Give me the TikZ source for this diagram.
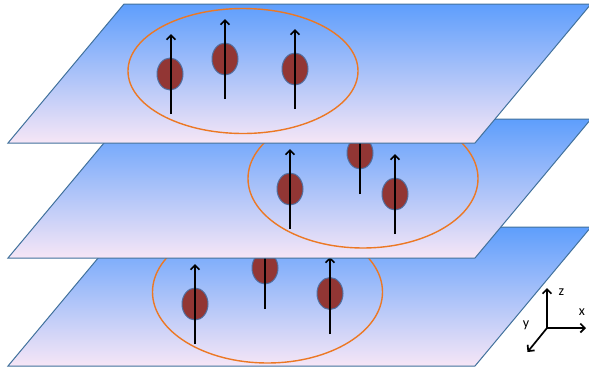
\documentclass[tikz,border=0pt]{standalone}
\usepackage{fontspec}
\setmainfont{Carlito}
\usetikzlibrary{shapes.geometric,arrows.meta}
\definecolor{planetop}{RGB}{94,158,252}
\definecolor{planemid}{RGB}{140,196,252}
\definecolor{planebot}{RGB}{246,230,246}
\definecolor{planeedge}{RGB}{65,113,156}
\definecolor{orbitcol}{RGB}{236,120,36}
\definecolor{spinred}{RGB}{146,54,52}
\definecolor{spinedge}{RGB}{80,110,160}
\begin{document}
\begin{tikzpicture}[x=1pt,y=-1pt,
  plane/.style={draw=planeedge,line width=1pt,top color=planetop,middle color=planemid,bottom color=planebot},
  orbit/.style={ellipse,draw=orbitcol,line width=1.4pt,inner sep=0pt},
  spin/.style={ellipse,fill=spinred,draw=spinedge,line width=1pt,minimum width=26pt,minimum height=32pt,inner sep=0pt},
  spinarrow/.style={line width=1.7pt,-{Straight Barb[length=4.5pt,width=9pt]}},
  axarrow/.style={line width=1.7pt,-{Straight Barb[length=4.5pt,width=9pt]}},
  axlabel/.style={font=\fontsize{14}{15}\selectfont,inner sep=0pt}]
\useasboundingbox (0,0) rectangle (589,373);
% ---------- bottom plane ----------
\path[plane] (8,366) -- (124,227) -- (591,227) -- (475,366) -- cycle;
\node[orbit,minimum width=230pt,minimum height=142pt] (orb3) at (267.5,292) {};
\node[spin] (s31) at (195,304) {};
\node[spin] (s32) at (265,268) {};
\node[spin] (s33) at (330,293.5) {};
\coordinate (a31s) at (195,344); \coordinate (a31e) at (195,264);
\coordinate (a32s) at (265,309); \coordinate (a32e) at (265,229);
\coordinate (a33s) at (330,334); \coordinate (a33e) at (330,257);
\draw[spinarrow] (a31s) -- (a31e);
\draw[spinarrow] (a32s) -- (a32e);
\draw[spinarrow] (a33s) -- (a33e);
% ---------- middle plane ----------
\path[plane] (8,258) -- (124,119) -- (591,119) -- (475,258) -- cycle;
\node[orbit,minimum width=230pt,minimum height=139pt] (orb2) at (363,178.5) {};
\node[spin] (s21) at (290,189) {};
\node[spin] (s22) at (360,153) {};
\node[spin] (s23) at (395,194) {};
\coordinate (a21s) at (290,228.5); \coordinate (a21e) at (290,149);
\coordinate (a22s) at (360,194); \coordinate (a22e) at (360,114);
\coordinate (a23s) at (395,234); \coordinate (a23e) at (395,154);
\draw[spinarrow] (a21s) -- (a21e);
\draw[spinarrow] (a22s) -- (a22e);
\draw[spinarrow] (a23s) -- (a23e);
% ---------- top plane ----------
\path[plane] (8,143) -- (124,4) -- (591,4) -- (475,143) -- cycle;
\node[orbit,minimum width=230pt,minimum height=125pt] (orb1) at (243,71) {};
\node[spin] (s11) at (170,74) {};
\node[spin] (s12) at (225,59) {};
\node[spin] (s13) at (295,69) {};
\coordinate (a11s) at (171,114); \coordinate (a11e) at (171,34);
\coordinate (a12s) at (225,99); \coordinate (a12e) at (225,19);
\coordinate (a13s) at (295,109); \coordinate (a13e) at (295,29);
\draw[spinarrow] (a11s) -- (a11e);
\draw[spinarrow] (a12s) -- (a12e);
\draw[spinarrow] (a13s) -- (a13e);
% ---------- axes ----------
\coordinate (o) at (547,328);
\coordinate (zt) at (547,288);
\coordinate (xt) at (586,328);
\coordinate (yt) at (527.5,352);
\draw[axarrow] (o) -- (zt);
\draw[axarrow] (o) -- (xt);
\draw[axarrow] (o) -- (yt);
\node[axlabel] (zl) at (561.5,292) {z};
\node[axlabel] (xl) at (582,312) {x};
\node[axlabel] (yl) at (526,325.5) {y};
\end{tikzpicture}
\end{document}
